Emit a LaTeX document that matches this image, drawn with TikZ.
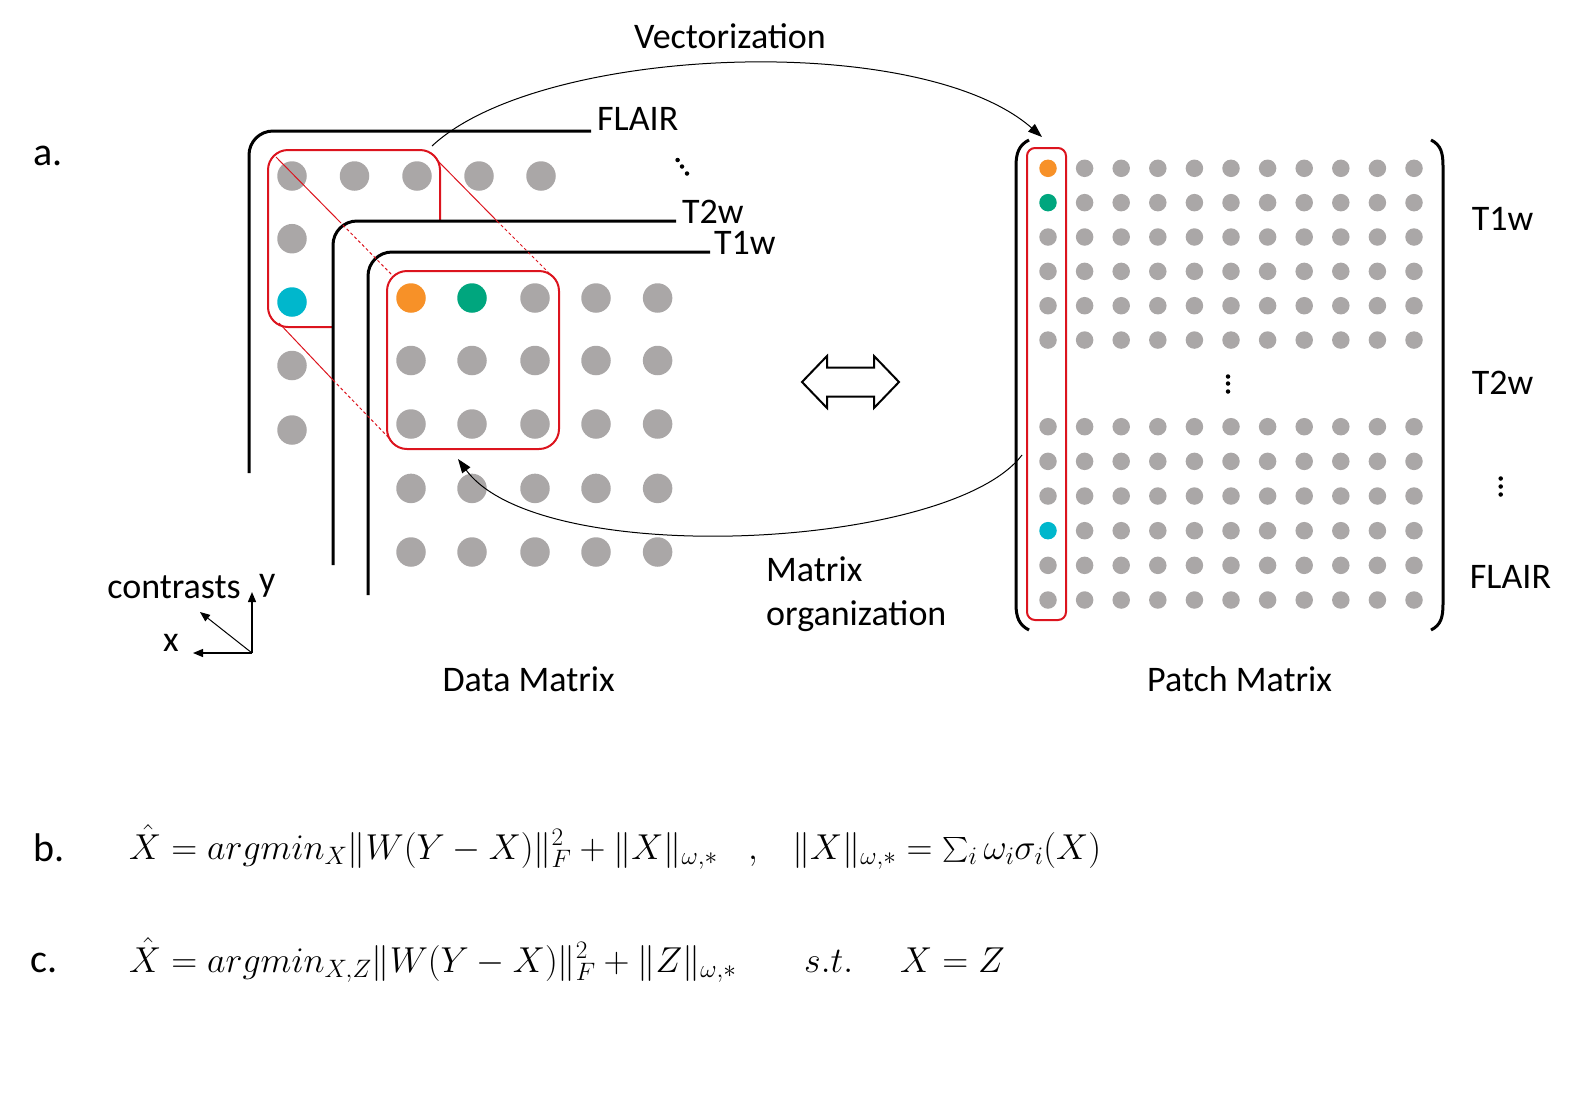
\RequirePackage{fix-cm}
\documentclass[tikz,border=0pt]{standalone}
\usepackage{exscale}
\usepackage{fontspec}
\setmainfont{Carlito}
\usetikzlibrary{arrows.meta}
\definecolor{dotgray}{RGB}{170,167,167}
\definecolor{dorange}{RGB}{247,145,40}
\definecolor{dgreen}{RGB}{0,166,126}
\definecolor{dcyan}{RGB}{0,183,204}
\definecolor{dred}{RGB}{220,20,30}
\begin{document}
\begin{tikzpicture}[x=1pt,y=-1pt,
  layerline/.style={line width=3pt, rounded corners=24pt},
  bigdot/.style={circle, inner sep=0pt, minimum size=29.5pt, fill=dotgray},
  smalldot/.style={circle, inner sep=0pt, minimum size=17.5pt, fill=dotgray},
  tinydot/.style={circle, inner sep=0pt, minimum size=4.5pt, fill=black},
  redbox/.style={draw=dred, line width=2pt},
  redline/.style={draw=dred, line width=1pt},
  reddash/.style={draw=dred, line width=1pt, dash pattern=on 3pt off 2.5pt},
  lbl/.style={font=\fontsize{36}{40}\selectfont, inner sep=0pt},
  biglbl/.style={font=\fontsize{40}{44}\selectfont, inner sep=0pt},
  mathlbl/.style={font=\fontsize{36}{40}\selectfont, inner sep=0pt},
  curvearrow/.style={line width=1pt, -{Triangle[length=14pt,width=10pt]}},
  axisarrow/.style={line width=1.3pt, -{Triangle[length=10pt,width=8pt]}},
  bracket/.style={line width=3pt}
]
\useasboundingbox (0,0) rectangle (1579,1104);

% ---------- Data matrix: FLAIR layer ----------
\draw[layerline] (249,473) -- (249,131) -- (591,131);
\foreach \x [count=\k] in {292,354.5,417,479,541}
  \node[bigdot] (fr\k) at (\x,176) {};
\node[bigdot] (fc2) at (292,238.7) {};
\node[bigdot,fill=dcyan] (fc3) at (292,302) {};
\node[bigdot] (fc4) at (292,365.5) {};
\node[bigdot] (fc5) at (292,430) {};
\draw[redbox, rounded corners=20pt] (440,221) -- (440,150) -- (268,150) -- (268,327) -- (333,327);

% ---------- T2w layer ----------
\draw[layerline] (333,565) -- (333,221) -- (676,221);

% ---------- T1w layer ----------
\draw[layerline] (368,595) -- (368,252) -- (710,252);
\foreach \x [count=\i] in {411,472,535,596,657.6}
  \foreach \y [count=\j] in {298,360.5,424,488.4,552}
  {
    \ifnum\j=1
      \ifnum\i=1 \def\dc{dorange}\else\ifnum\i=2 \def\dc{dgreen}\else\def\dc{dotgray}\fi\fi
    \else \def\dc{dotgray}\fi
    \node[bigdot,fill=\dc] (t-\i-\j) at (\x,\y) {};
  }
\draw[redbox, rounded corners=20pt] (387,271) rectangle (559,449);

% projection lines
\draw[redline] (276,157) -- (339,221);
\draw[reddash] (339,221) -- (393,276);
\draw[redline] (437,160) -- (497,221);
\draw[reddash] (497,221) -- (550,274);
\draw[redline] (279,323) -- (333,380);
\draw[reddash] (333,380) -- (389,438);

% layer labels
\node[lbl, anchor=base west] (lFLAIR) at (597,130.5) {FLAIR};
\node[lbl, anchor=base west] (lT2w) at (682,223) {T2w};
\node[lbl, anchor=base west] (lT1w) at (714,254) {T1w};
\node[tinydot] (dd1) at (677.6,160) {};
\node[tinydot] (dd2) at (682,166.5) {};
\node[tinydot] (dd3) at (687,173.5) {};

% axes
\coordinate (ax0) at (252,653);
\coordinate (axy) at (252,592);
\coordinate (axx) at (193,653);
\coordinate (axz) at (200,612);
\draw[axisarrow] (ax0) -- (axy);
\draw[axisarrow] (ax0) -- (axx);
\draw[line width=1pt, -{Triangle[length=10pt,width=8pt]}] (ax0) -- (axz);
\node[lbl, anchor=base east] (lcontr) at (241,598) {contrasts};
\node[lbl, anchor=base west] (ly) at (259,591) {y};
\node[lbl, anchor=base west] (lx) at (163,651) {x};

\node[lbl, anchor=base] (ldata) at (528.7,691) {Data Matrix};

% ---------- double arrow ----------
\draw[line width=2pt, line join=miter] (802,382) -- (827,356) -- (827,367.5) -- (874,367.5) -- (874,356) -- (899,382)
  -- (874,408) -- (874,396.5) -- (827,396.5) -- (827,408) -- cycle;

% ---------- Patch matrix ----------
\draw[bracket] (1029,140) .. controls (1019,145) and (1016,153) .. (1016,166) -- (1016,604) .. controls (1016,617) and (1019,625) .. (1029,630);
\draw[bracket] (1431,140) .. controls (1441,145) and (1443,153) .. (1443,166) -- (1443,604) .. controls (1443,617) and (1441,625) .. (1431,630);
\foreach \i in {0,...,10}{
  \foreach \j in {0,...,5}{
    \ifnum\i=0
      \ifnum\j=0 \def\dc{dorange}\else\ifnum\j=1 \def\dc{dgreen}\else\def\dc{dotgray}\fi\fi
    \else \def\dc{dotgray}\fi
    \node[smalldot,fill=\dc] (pt-\i-\j) at ({1048+36.6*\i},{168.3+34.35*\j}) {};
    \ifnum\i=0
      \ifnum\j=3 \def\dc{dcyan}\else\def\dc{dotgray}\fi
    \else \def\dc{dotgray}\fi
    \node[smalldot,fill=\dc] (pb-\i-\j) at ({1048+36.6*\i},{426.7+34.66*\j}) {};
  }
}
\draw[redbox, rounded corners=8pt] (1027,148) rectangle (1066,620);
\node[tinydot] (pv1) at (1228,376.5) {};
\node[tinydot] (pv2) at (1228,383.5) {};
\node[tinydot] (pv3) at (1228,391.5) {};
\node[tinydot] (rv1) at (1500.7,478.5) {};
\node[tinydot] (rv2) at (1500.7,486.5) {};
\node[tinydot] (rv3) at (1500.7,494.5) {};

\node[lbl, anchor=base] (rT1w) at (1502.5,230) {T1w};
\node[lbl, anchor=base] (rT2w) at (1502.5,394) {T2w};
\node[lbl, anchor=base] (rFLAIR) at (1510.5,588.6) {FLAIR};
\node[lbl, anchor=base] (lpatch) at (1239.6,691) {Patch Matrix};

% ---------- curved arrows ----------
\coordinate (vecS) at (432,146);
\coordinate (vecE) at (1042,137);
\draw[curvearrow] (vecS) .. controls (540,45) and (920,30) .. (vecE);
\node[lbl, anchor=base] (lvec) at (730,48) {Vectorization};

\coordinate (orgS) at (1022,455);
\coordinate (orgE) at (458,459);
\draw[curvearrow] (orgS) .. controls (950,550) and (540,570) .. (orgE);
\node[lbl, anchor=base west] (lorg1) at (766,581.5) {Matrix};
\node[lbl, anchor=base west] (lorg2) at (766,625) {organization};

% ---------- labels a b c ----------
\node[biglbl, anchor=base west] (la) at (33,165) {a.};
\node[biglbl, anchor=base west] (lb) at (33,861) {b.};
\node[biglbl, anchor=base west] (lc) at (30,972) {c.};

% ---------- formulas ----------
\node[mathlbl, anchor=base west] (b1) at (129,859) {$\hat{X} = argmin_X\|W(Y-X)\|_F^2+\|X\|_{\omega,*}$};
\node[mathlbl, anchor=base west] (bcomma) at (748,859) {$,$};
\node[mathlbl, anchor=base west] (b2) at (792,859) {$\|X\|_{\omega,*}=\textstyle\sum_i\omega_i\sigma_i(X)$};
\node[mathlbl, anchor=base west] (c1) at (129,972) {$\hat{X} = argmin_{X,Z}\|W(Y-X)\|_F^2+\|Z\|_{\omega,*}$};
\node[mathlbl, anchor=base west] (c2) at (804,972) {$s.t.$};
\node[mathlbl, anchor=base west] (c3) at (900,972) {$X=Z$};
\end{tikzpicture}
\end{document}
